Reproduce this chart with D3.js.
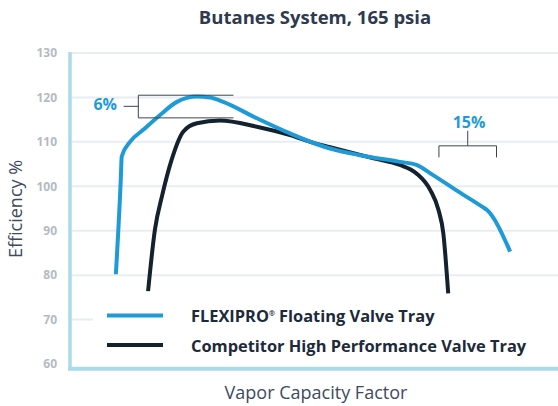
<!DOCTYPE html>
<head>
  <meta charset="utf-8">
  <script src="https://d3js.org/d3.v7.min.js"></script>
  <style>
    body { margin: 0; background: #ffffff; }
    svg { display: block; font-family: "Open Sans", Lato, sans-serif; }
  </style>
</head>
<body>
  <script>
    // valeurs (x : facteur de capacité, échelle 0-100 arbitraire)
    var flexiX = [9.4, 10.4, 10.6, 12.3, 15.0, 18.4, 21.9, 26.0, 28.7, 31.4, 38.3, 45.1, 53.3, 59.4, 67.6, 71.0, 74.4, 79.6, 84.6, 85.4, 90.2];
    var flexiY = [80.2, 101.4, 106.7, 110.0, 112.7, 116.0, 119.0, 120.2, 120.0, 119.0, 115.3, 111.9, 108.5, 107.0, 105.5, 104.8, 102.5, 98.8, 95.3, 94.7, 85.3];
    var compX = [16.0, 17.4, 18.9, 20.8, 23.2, 26.0, 30.7, 38.3, 45.1, 49.2, 53.3, 62.2, 67.6, 71.0, 73.8, 75.5, 76.5, 77.5];
    var compY = [76.4, 90.2, 98.0, 105.9, 112.3, 114.2, 114.8, 113.4, 111.5, 110.0, 108.8, 106.3, 104.8, 102.9, 99.2, 94.7, 89.4, 75.9];
    var yTicks = [60, 70, 80, 90, 100, 110, 120, 130];
    var seriesNames = ["FLEXIPRO", "Competitor High Performance Valve Tray"];

    var w = 558, h = 406;
    var blue = "#1e9bd7", dark = "#14212e";

    var svg = d3.select("body").append("svg")
      .attr("width", w)
      .attr("height", h);

    var x = d3.scaleLinear().domain([0, 100]).range([70, 558]);
    var y = d3.scaleLinear().domain([60, 130]).range([364, 53]);

    // titre
    svg.append("text")
      .attr("x", 315).attr("y", 24)
      .attr("text-anchor", "middle")
      .style("font-size", "18.5px").style("font-weight", "bold")
      .style("fill", "#2d3a50")
      .text("Butanes System, 165 psia");

    // grille
    svg.append("g").selectAll("line")
      .data(yTicks.slice(1))
      .enter().append("line")
      .attr("x1", 72).attr("x2", w)
      .attr("y1", function(d) { return y(d); })
      .attr("y2", function(d) { return y(d); })
      .style("stroke", "#e8edf2").style("stroke-width", 2);

    // axe Y
    var yAxis = svg.append("g")
      .attr("transform", "translate(57,0)")
      .call(d3.axisLeft(y).tickValues(yTicks).tickSize(0).tickPadding(0));
    yAxis.select(".domain").remove();
    yAxis.selectAll("text")
      .style("font-family", "'Open Sans', sans-serif")
      .style("font-size", "12px").style("font-weight", "bold")
      .style("fill", "#b3bbc4");

    var line = d3.line()
      .x(function(d) { return x(d[0]); })
      .y(function(d) { return y(d[1]); })
      .curve(d3.curveMonotoneX);

    var flexi = flexiX.map(function(v, i) { return [v, flexiY[i]]; });
    var comp = compX.map(function(v, i) { return [v, compY[i]]; });

    svg.append("path").datum(comp)
      .attr("d", line)
      .style("fill", "none").style("stroke", dark).style("stroke-width", 4);
    svg.append("path").datum(flexi)
      .attr("d", line)
      .style("fill", "none").style("stroke", blue).style("stroke-width", 4);

    // légende (fond blanc)
    svg.append("rect")
      .attr("x", 93).attr("y", 296).attr("width", w - 93).attr("height", 70)
      .style("fill", "#ffffff");

    var leg = svg.append("g");
    [[blue, 315.5], [dark, 345]].forEach(function(s, i) {
      leg.append("line")
        .attr("x1", 107).attr("x2", 163)
        .attr("y1", s[1]).attr("y2", s[1])
        .style("stroke", s[0]).style("stroke-width", 4);
    });
    var t1 = leg.append("text")
      .attr("x", 191).attr("y", 322)
      .style("font-size", "16.4px").style("font-weight", "bold")
      .style("fill", "#1c2a3a");
    t1.append("tspan").text(seriesNames[0]);
    t1.append("tspan").attr("dy", -6).style("font-size", "7px").text("®");
    t1.append("tspan").attr("dy", 6).text(" Floating Valve Tray");
    leg.append("text")
      .attr("x", 191).attr("y", 352)
      .style("font-size", "16.4px").style("font-weight", "bold")
      .style("fill", "#1c2a3a")
      .text(seriesNames[1]);

    // axes (bleu clair)
    svg.append("line")
      .attr("x1", 70).attr("x2", 70).attr("y1", 52).attr("y2", 370.5)
      .style("stroke", "#a9dbea").style("stroke-width", 3.5);
    svg.append("line")
      .attr("x1", 68.3).attr("x2", w).attr("y1", 368.7).attr("y2", 368.7)
      .style("stroke", "#a9dbea").style("stroke-width", 4);

    // titres d'axes
    svg.append("text")
      .attr("x", 316).attr("y", 399)
      .attr("text-anchor", "middle")
      .style("font-size", "18px").style("fill", "#3d4b60")
      .text("Vapor Capacity Factor");
    svg.append("text")
      .attr("transform", "translate(22,209) rotate(-90)")
      .attr("text-anchor", "middle")
      .style("font-size", "18px").style("fill", "#3d4b60")
      .text("Efficiency %");

    // annotation 6 %
    var ann = svg.append("g").style("stroke", "#3a4552").style("stroke-width", 1).style("fill", "none");
    ann.append("path")
      .attr("d", "M" + x(11) + "," + y(118) + "H" + x(14.0) +
                 "M" + x(33.5) + "," + y(120.5) + "H" + x(14.0) + "V" + y(115.4) + "H" + x(33.5));
    svg.append("text")
      .attr("x", 117).attr("y", 110)
      .attr("text-anchor", "end")
      .style("font-size", "16px").style("font-weight", "bold")
      .style("fill", blue)
      .text("6%");

    // annotation 15 %
    ann.append("path")
      .attr("d", "M" + x(75.6) + "," + y(106.5) + "V" + y(109.1) + "H" + x(87.4) + "V" + y(106.5) +
                 "M" + x(81.5) + "," + y(109.1) + "V" + y(112.5));
    svg.append("text")
      .attr("x", 469).attr("y", 128)
      .attr("text-anchor", "middle")
      .style("font-size", "16px").style("font-weight", "bold")
      .style("fill", blue)
      .text("15%");
  </script>
</body>
